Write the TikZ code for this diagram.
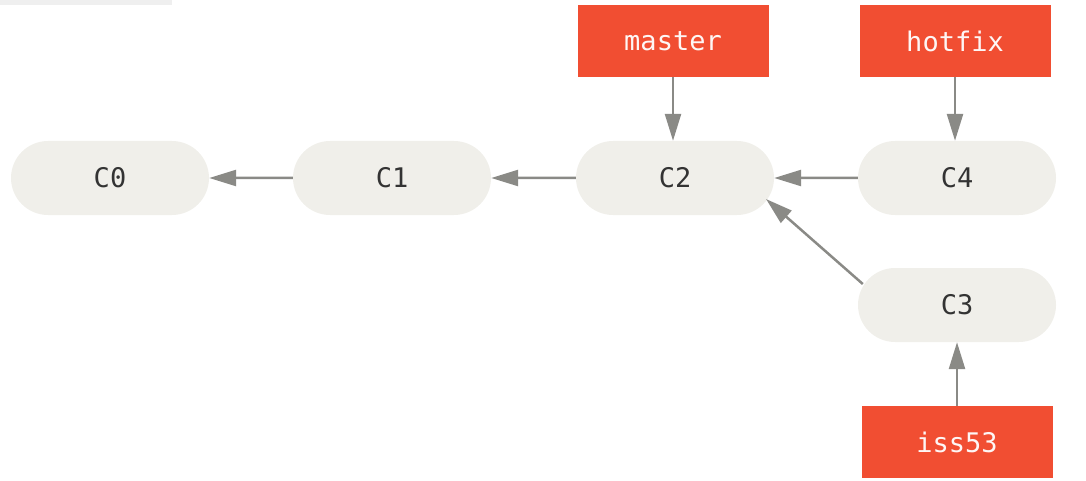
\documentclass[tikz,border=0pt]{standalone}
\usepackage{fontspec}
\setmonofont{DejaVu Sans Mono}
\usetikzlibrary{shapes.misc,arrows.meta}
\definecolor{gitorange}{HTML}{F14E32}
\definecolor{commitfill}{HTML}{F0EFEA}
\definecolor{committext}{HTML}{333333}
\definecolor{arrowgrey}{HTML}{8A8A86}
\definecolor{topbar}{HTML}{EFEFEF}
\tikzset{
  commit/.style={rounded rectangle, fill=commitfill, draw=none,
    minimum width=198pt, minimum height=74pt, inner sep=0pt,
    font=\ttfamily\fontsize{27}{27}\selectfont, text=committext},
  branch/.style={rectangle, fill=gitorange, draw=none,
    minimum width=191pt, minimum height=72pt, inner sep=0pt,
    font=\ttfamily\fontsize{27}{27}\selectfont, text=white!95!gitorange},
  parent/.style={draw=arrowgrey, line width=2.5pt,
    -{Triangle[length=27pt,width=16pt]}},
}
\begin{document}
\begin{tikzpicture}[x=1pt,y=-1pt]
\useasboundingbox (0,0) rectangle (1086,481);
\fill[topbar] (0,0) rectangle (172,5);
\node[commit] (C0) at (110,178) {C0};
\node[commit] (C1) at (392,178) {C1};
\node[commit] (C2) at (675,178) {C2};
\node[commit] (C4) at (957,178) {C4};
\node[commit] (C3) at (957,305) {C3};
\node[branch] (master) at (673,41) {master};
\node[branch] (hotfix) at (955,41) {hotfix};
\node[branch] (iss53) at (957,442) {iss53};
\draw[parent] (C1) -- (C0);
\draw[parent] (C2) -- (C1);
\draw[parent] (C4) -- (C2);
\draw[parent] (C3.west |- 0,284) ++(5,0) coordinate (s3) -- (766,199) coordinate (e2);
\draw[parent] (master) -- (master |- C2.north);
\draw[parent] (hotfix) -- (hotfix |- C4.north);
\draw[parent] (iss53) -- (iss53 |- C3.south);
\end{tikzpicture}
\end{document}
